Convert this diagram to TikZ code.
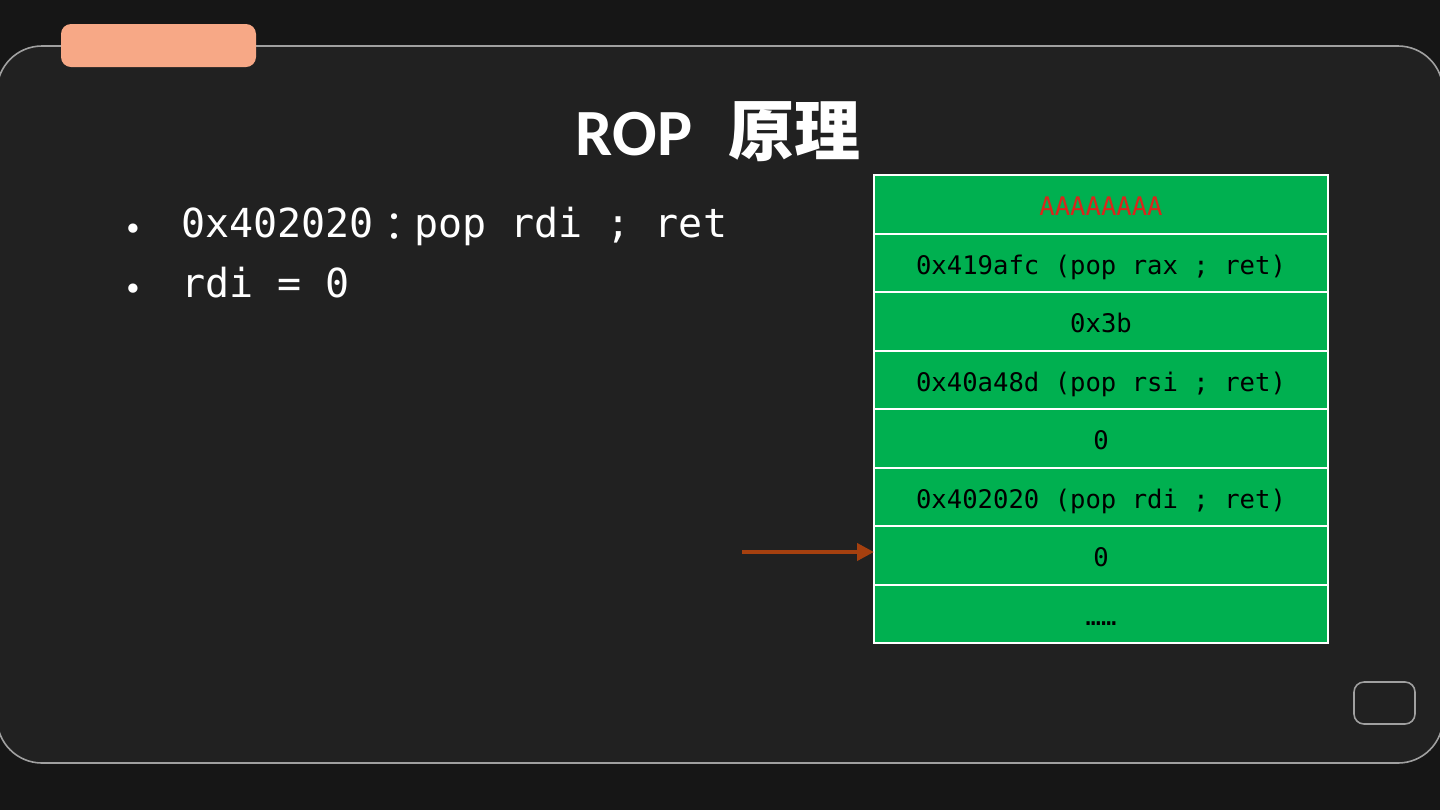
\documentclass[tikz,border=0pt]{standalone}
\usepackage{fontspec}
\setmonofont{DejaVu Sans Mono}
\newfontfamily\cjk{Noto Sans CJK SC}
\newfontfamily\cjkjp{Noto Sans CJK JP}
\newfontfamily\latintitle{Carlito}
\usepackage{tikz}
\usetikzlibrary{shapes,arrows.meta,positioning}
\definecolor{pagebg}{HTML}{161616}
\definecolor{panelbg}{HTML}{212121}
\definecolor{panelline}{HTML}{A0A0A0}
\definecolor{tabsalmon}{HTML}{F7A886}
\definecolor{stackgreen}{HTML}{00B050}
\definecolor{padred}{HTML}{D9261C}
\definecolor{ptrbrown}{HTML}{A5400F}
\tikzstyle{cell} = [draw=white,line width=1pt,fill=stackgreen,rectangle,outer sep=0pt,
    minimum width=227pt,minimum height=29.25pt,inner sep=0pt,text height=11pt,text depth=0pt,
    font=\ttfamily\fontsize{12.8}{15}\selectfont]
\tikzstyle{item} = [anchor=base west,inner sep=0pt,text=white,
    font=\ttfamily\fontsize{20}{24}\selectfont]
\tikzstyle{pointer} = [line width=2pt,draw=ptrbrown,-{Triangle[length=8.5pt,width=8.5pt]}]

\begin{document}
\begin{tikzpicture}[x=0.5pt,y=-0.5pt]
    \useasboundingbox[fill=pagebg] (0,0) rectangle (1440,810);
    % slide panel
    \draw[fill=panelbg,draw=panelline,line width=0.8pt,rounded corners=22.5pt]
        (-3,46) rectangle (1443,763);
    \fill[tabsalmon,rounded corners=5pt] (61,24) rectangle (256,67);
    \draw[draw=panelline,line width=0.8pt,rounded corners=5pt] (1354,682) rectangle (1415,724);

    \node[anchor=base,inner sep=0pt,text=white,font=\bfseries\fontsize{33}{40}\selectfont]
        (title) at (718,155) {{\latintitle ROP}\hspace{18pt}{\cjk 原理}};

    % bullet list
    \node[item] (item1) at (181,237) {0x402020\raisebox{-2pt}{\cjkjp ：}pop rdi ; ret};
    \node[item] (item2) at (181,297) {rdi = 0};
    \node[text=white,inner sep=0pt,font=\ttfamily\fontsize{16}{16}\selectfont] (dot1) at (133,232) {•};
    \node[text=white,inner sep=0pt,font=\ttfamily\fontsize{16}{16}\selectfont] (dot2) at (133,292) {•};

    % stack
    \node[cell,text=padred] (row1) at (1101,204.5) {AAAAAAAA};
    \node[cell,below=0pt of row1] (row2) {0x419afc (pop rax ; ret)};
    \node[cell,below=0pt of row2] (row3) {0x3b};
    \node[cell,below=0pt of row3] (row4) {0x40a48d (pop rsi ; ret)};
    \node[cell,below=0pt of row4] (row5) {0};
    \node[cell,below=0pt of row5] (row6) {0x402020 (pop rdi ; ret)};
    \node[cell,below=0pt of row6] (row7) {0};
    \node[cell,below=0pt of row7] (row8) {……};

    \coordinate (sp) at (742,552);
    \draw[pointer] (sp) -- (sp -| row7.west);
\end{tikzpicture}
\end{document}
